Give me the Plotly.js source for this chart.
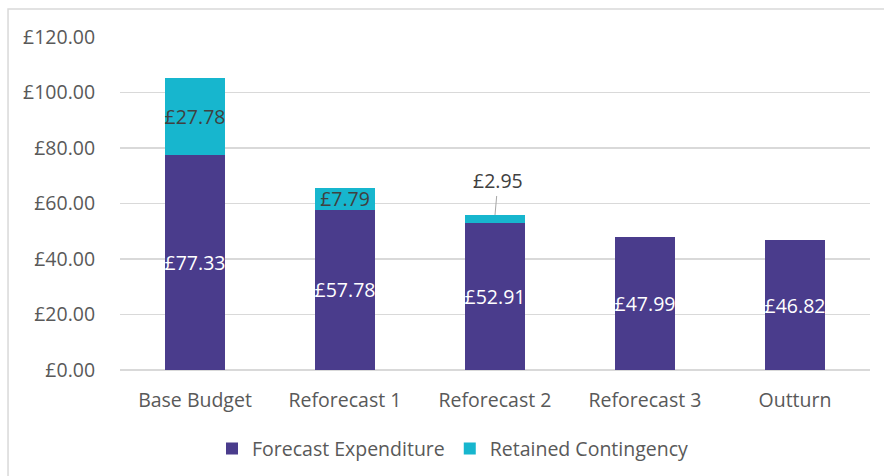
<!DOCTYPE html>
<html>
<head>
<meta charset="utf-8">
<script src="https://cdn.plot.ly/plotly-3.0.1.min.js"></script>
<style>html,body{margin:0;padding:0;background:#fff;}#chart{width:884px;height:476px;}</style>
</head>
<body>
<div id="chart"></div>
<script>
const categories = ['Base Budget', 'Reforecast 1', 'Reforecast 2', 'Reforecast 3', 'Outturn'];
const forecastExpenditure = [77.33, 57.78, 52.91, 47.99, 46.82];
const retainedContingency = [27.78, 7.79, 2.95, 0, 0];
const forecastLabels = ['£77.33', '£57.78', '£52.91', '£47.99', '£46.82'];
const contingencyLabels = ['£27.78', '£7.79', '', '', ''];
const calloutIndex = 2;
const calloutLabel = '£2.95';
const yTickVals = [0, 20, 40, 60, 80, 100, 120];
const yTickText = ['£0.00', '£20.00', '£40.00', '£60.00', '£80.00', '£100.00', '£120.00'];

const FONT = '"Open Sans", "Noto Sans", sans-serif';

const traces = [
  {
    type: 'bar', name: 'Forecast Expenditure',
    x: categories, y: forecastExpenditure,
    text: forecastLabels, textposition: 'inside', insidetextanchor: 'middle',
    constraintext: 'none', textangle: 0,
    textfont: {family: FONT, size: 19.5, color: '#FFFFFF'},
    marker: {color: '#4A3C8C'},
    hoverinfo: 'skip'
  },
  {
    type: 'bar', name: 'Retained Contingency',
    x: categories, y: retainedContingency,
    text: contingencyLabels, textposition: 'inside', insidetextanchor: 'middle',
    constraintext: 'none', textangle: 0,
    textfont: {family: FONT, size: 19.5, color: '#404040'},
    marker: {color: '#17B6CE'},
    hoverinfo: 'skip'
  }
];

const layout = {
  width: 884, height: 476,
  margin: {l: 120, r: 14, t: 37, b: 106, autoexpand: false},
  paper_bgcolor: '#FFFFFF', plot_bgcolor: '#FFFFFF',
  barmode: 'stack', bargap: 0.6,
  showlegend: true,
  font: {family: FONT, size: 19.5, color: '#595959'},
  xaxis: {
    type: 'category', showgrid: false, zeroline: false, showline: false,
    ticks: 'outside', ticklen: 13, tickcolor: 'rgba(0,0,0,0)',
    tickfont: {family: FONT, size: 19.5, color: '#595959'}
  },
  yaxis: {
    range: [0, 120], tickvals: yTickVals, ticktext: yTickText,
    showgrid: true, gridcolor: '#D9D9D9', gridwidth: 1.5,
    zeroline: true, zerolinecolor: '#D9D9D9', zerolinewidth: 1.5,
    showline: false, ticks: 'outside', ticklen: 20, tickcolor: 'rgba(0,0,0,0)',
    tickfont: {family: FONT, size: 19.5, color: '#595959'}
  },
  legend: {
    orientation: 'h', x: 0.444, xanchor: 'center', y: -0.237, yanchor: 'middle',
    font: {family: FONT, size: 19.5, color: '#595959'}, traceorder: 'normal'
  },
  annotations: [{
    x: categories[calloutIndex],
    y: forecastExpenditure[calloutIndex] + retainedContingency[calloutIndex],
    xref: 'x', yref: 'y',
    text: calloutLabel, showarrow: true, arrowhead: 0, arrowwidth: 1,
    arrowcolor: '#A6A6A6', ax: 3, ay: -34, standoff: 0,
    font: {family: FONT, size: 19.5, color: '#404040'}
  }],
  shapes: [{
    type: 'rect', xref: 'paper', yref: 'paper',
    x0: -0.1493, x1: 1.2, y0: -0.5, y1: 1.084,
    line: {color: '#D9D9D9', width: 1.5}, fillcolor: 'rgba(0,0,0,0)', layer: 'below'
  }]
};

Plotly.newPlot('chart', traces, layout, {displayModeBar: false, staticPlot: true});
</script>
</body>
</html>
